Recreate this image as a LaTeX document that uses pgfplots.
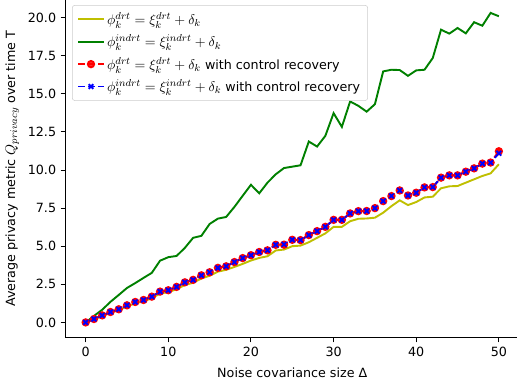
\documentclass[border=0pt]{standalone}
\usepackage{fontspec}
\setmainfont{DejaVu Sans}
\usepackage{pgfplots}
\pgfplotsset{compat=1.18}
\definecolor{mplyellow}{rgb}{0.75,0.75,0}
\definecolor{mplgreen}{rgb}{0,0.5,0}
\definecolor{mplred}{rgb}{1,0,0}
\definecolor{mplblue}{rgb}{0,0,1}
\newcommand{\m}[1]{{\fontsize{11.2}{13}\selectfont$#1$}}

\pgfplotstableread{
k  y
0  0.00
1  0.20
2  0.42
3  0.63
4  0.80
5  1.05
6  1.25
7  1.38
8  1.58
9  1.90
10 1.98
11 2.18
12 2.45
13 2.60
14 2.88
15 3.06
16 3.33
17 3.45
18 3.64
19 3.84
20 4.06
21 4.23
22 4.34
23 4.72
24 4.78
25 5.00
26 5.04
27 5.26
28 5.55
29 5.84
30 6.27
31 6.27
32 6.64
33 6.80
34 6.82
35 6.87
36 7.20
37 7.63
38 8.01
39 7.70
40 7.90
41 8.20
42 8.25
43 8.80
44 8.93
45 8.95
46 9.17
47 9.39
48 9.61
49 9.78
50 10.38
}\yellowdata

\pgfplotstableread{
k  y
0  0.00
1  0.42
2  0.83
3  1.35
4  1.80
5  2.26
6  2.58
7  2.92
8  3.25
9  4.05
10 4.28
11 4.36
12 4.89
13 5.55
14 5.68
15 6.46
16 6.81
17 6.92
18 7.58
19 8.31
20 9.03
21 8.47
22 9.17
23 9.72
24 10.13
25 10.22
26 10.31
27 11.87
28 11.54
29 12.24
30 13.73
31 12.83
32 14.50
33 14.21
34 13.83
35 14.32
36 16.47
37 16.58
38 16.56
39 16.18
40 16.54
41 16.58
42 17.35
43 19.21
44 18.95
45 19.32
46 18.97
47 19.70
48 19.47
49 20.31
50 20.09
}\greendata

\pgfplotstableread{
k  y
0  0.00
1  0.22
2  0.46
3  0.68
4  0.86
5  1.12
6  1.34
7  1.47
8  1.69
9  2.02
10 2.11
11 2.33
12 2.63
13 2.79
14 3.09
15 3.29
16 3.58
17 3.68
18 3.96
19 4.22
20 4.41
21 4.62
22 4.73
23 5.09
24 5.10
25 5.42
26 5.40
27 5.73
28 5.99
29 6.27
30 6.73
31 6.73
32 7.15
33 7.30
34 7.31
35 7.50
36 7.96
37 8.29
38 8.66
39 8.33
40 8.51
41 8.86
42 8.88
43 9.50
44 9.65
45 9.65
46 9.89
47 10.11
48 10.42
49 10.49
50 11.23
}\reddata

\pgfplotstableread{
k  y
0  0.00
1  0.22
2  0.46
3  0.68
4  0.86
5  1.12
6  1.34
7  1.47
8  1.69
9  2.02
10 2.11
11 2.33
12 2.63
13 2.79
14 3.09
15 3.29
16 3.58
17 3.68
18 3.96
19 4.22
20 4.41
21 4.62
22 4.73
23 5.09
24 5.12
25 5.42
26 5.40
27 5.73
28 5.99
29 6.27
30 6.73
31 6.73
32 7.15
33 7.30
34 7.31
35 7.50
36 7.96
37 8.30
38 8.66
39 8.33
40 8.51
41 8.86
42 8.88
43 9.50
44 9.65
45 9.65
46 9.89
47 10.11
48 10.42
49 10.49
50 11.10
}\bluedata

\begin{document}
\begin{tikzpicture}
\begin{axis}[
  name=ax,
  scale only axis,
  width=357.9pt, height=266.6pt,
  xmin=-2.5, xmax=52.5, ymin=-1.02, ymax=21.2,
  xtick={0,10,20,30,40,50},
  ytick={0,2.5,5,7.5,10,12.5,15,17.5,20},
  yticklabel style={/pgf/number format/.cd, fixed, fixed zerofill, precision=1},
  /pgf/number format/assume math mode=true,
  tick label style={font=\fontsize{10}{12}\selectfont},
  label style={font=\fontsize{10}{12}\selectfont},
  tick align=outside,
  major tick length=3.5pt,
  every tick/.style={black, line width=0.8pt},
  axis line style={line width=0.8pt},
  tick pos=left,
  xlabel={Noise covariance size Δ},
  xlabel style={yshift=-2pt},
  ylabel={Average privacy metric \m{Q_{privacy}} over time T},
  legend style={at={(0.0154,0.983)}, anchor=north west, draw=black!20,
    rounded corners=2pt, fill=white, fill opacity=0.8, text opacity=1,
    font=\fontsize{10}{12}\selectfont, row sep=2.6pt, inner xsep=4pt, inner ysep=3.5pt},
  legend cell align=left,
  legend image code/.code={\draw[mark repeat=2, mark phase=2, #1] plot coordinates {(0pt,0pt) (10pt,0pt) (20pt,0pt)};},
]
\addplot[mplyellow, line width=1.5pt, no marks] table[x=k,y=y] {\yellowdata};
\addlegendentry{\m{\phi_k^{drt} = \xi_k^{drt} + \delta_k}}
\addplot[mplgreen, line width=1.5pt, no marks] table[x=k,y=y] {\greendata};
\addlegendentry{\m{\phi_k^{indrt} = \xi_k^{indrt} + \delta_k}}
\addplot[mplred, line width=1.5pt, dash pattern=on 5.55pt off 2.4pt, mark=*, mark size=2.5pt, mark options={solid, fill=mplred, draw=mplred}] table[x=k,y=y] {\reddata};
\addlegendentry{\m{\phi_k^{drt} = \xi_k^{drt} + \delta_k} with control recovery}
\addplot[mplblue, line width=1.5pt, dash pattern=on 5.55pt off 2.4pt, mark=x, mark size=2.6pt, mark options={solid, line width=1.5pt, draw=mplblue}] table[x=k,y=y] {\bluedata};
\addlegendentry{\m{\phi_k^{indrt} = \xi_k^{indrt} + \delta_k} with control recovery}
\end{axis}
\pgfresetboundingbox
\path[use as bounding box] ([shift={(-51.2pt,-35.4pt)}]ax.south west) rectangle ([shift={(355.9pt,266.1pt)}]ax.south west);
\end{tikzpicture}
\end{document}
